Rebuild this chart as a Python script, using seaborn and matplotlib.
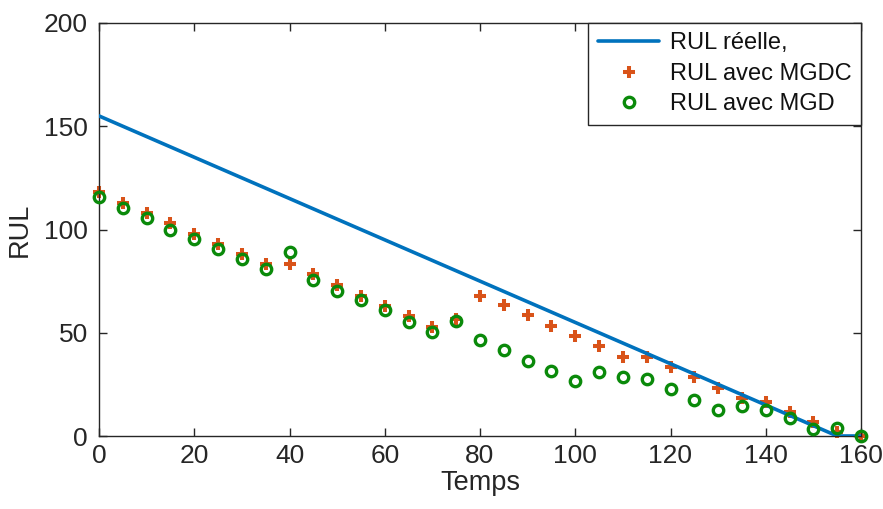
import numpy as np
import pandas as pd
import matplotlib
matplotlib.use("Agg")
import matplotlib.pyplot as plt
import seaborn as sns

# ---- data ----
temps = [0, 5, 10, 15, 20, 25, 30, 35, 40, 45, 50, 55, 60, 65, 70, 75, 80,
         85, 90, 95, 100, 105, 110, 115, 120, 125, 130, 135, 140, 145, 150, 155, 160]
rul_reelle_t = [0, 155, 160]
rul_reelle = [155, 0, 0]
rul_mgdc = [118, 113, 108, 103, 98, 93, 88, 83.5, 83.5, 78.5, 73, 68, 63, 58, 53, 56.5, 68,
            63.5, 58.5, 53.3, 48.4, 43.7, 38.2, 38.2, 33.4, 28.7, 23.2, 18.5, 16.6, 11.8, 7, 2, 0]
rul_mgd = [115.8, 110.6, 105.7, 100, 95.4, 90.6, 85.6, 80.7, 89.2, 75.5, 70.2, 65.9, 61, 55.4, 50.5, 55.5, 46.5,
           41.6, 36.3, 31.6, 26.8, 30.8, 28.7, 27.4, 22.7, 17.4, 12.6, 14.5, 12.6, 8.6, 3.2, 3.9, 0]
labels = ["RUL réelle,", "RUL avec MGDC", "RUL avec MGD"]
xticks = [0, 20, 40, 60, 80, 100, 120, 140, 160]
yticks = [0, 50, 100, 150, 200]

sns.set_theme(style="white")
plt.rcParams["font.family"] = ["Liberation Sans", "DejaVu Sans"]
axc = "#262626"

fig = plt.figure(figsize=(8.83, 5.09), dpi=100)
ax = fig.add_axes([99/883, 1-436/509, (861-99)/883, (436-23)/509])

blue = "#0072BD"
orange = "#D95319"
green = "#0A8A0A"

df_line = pd.DataFrame({"t": rul_reelle_t, "v": rul_reelle})
df_pts = pd.DataFrame({"t": temps, "mgdc": rul_mgdc, "mgd": rul_mgd})

sns.lineplot(data=df_line, x="t", y="v", ax=ax, color=blue, linewidth=2.6,
             label=labels[0], zorder=3)
sns.lineplot(data=df_pts, x="t", y="mgdc", ax=ax, color=orange, linestyle="",
             marker="+", markersize=9, markeredgewidth=2.9, markeredgecolor=orange,
             label=labels[1], zorder=2, clip_on=False)
sns.lineplot(data=df_pts, x="t", y="mgd", ax=ax, color=green, linestyle="",
             marker="o", markersize=7.5, markerfacecolor="none", markeredgecolor=green,
             markeredgewidth=2.4, label=labels[2], zorder=4, clip_on=False)

ax.set_xlim(0, 160)
ax.set_ylim(0, 200)
ax.set_xticks(xticks)
ax.set_yticks(yticks)
ax.set_xlabel("Temps", fontsize=19.5, color=axc, labelpad=1)
ax.set_ylabel("RUL", fontsize=19.5, color=axc, labelpad=8)

for s in ax.spines.values():
    s.set_visible(True)
    s.set_color(axc)
    s.set_linewidth(1.0)
ax.tick_params(direction="in", length=6, width=1.0, colors=axc, labelsize=19,
               top=True, right=True, bottom=True, left=True)
ax.tick_params(axis="x", pad=6)
ax.tick_params(axis="y", pad=8)
ax.grid(False)

leg = ax.legend(loc="upper right", borderaxespad=0, fontsize=17, frameon=True,
                fancybox=False, edgecolor=axc, framealpha=1, labelspacing=0.36,
                handlelength=2.6, handletextpad=0.45, borderpad=0.4)
leg.get_frame().set_linewidth(1.0)
for t in leg.get_texts():
    t.set_color("#111111")

fig.savefig("out.png", dpi=100, facecolor="white")
